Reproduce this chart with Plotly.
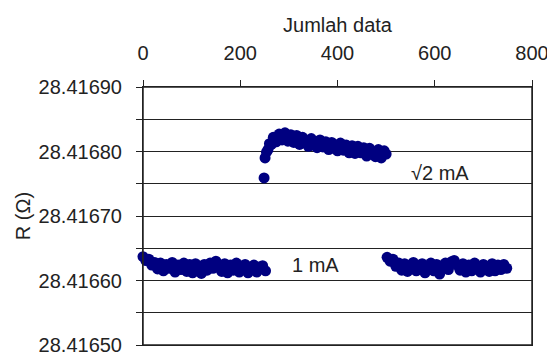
import plotly.graph_objects as go

# ---- data ----
x_1mA_a = [0, 6, 12, 18, 24, 30, 36, 42, 48, 54, 60, 66, 72, 78, 84, 90, 96, 102, 108, 114,
           120, 126, 132, 138, 144, 150, 156, 162, 168, 174, 180, 186, 192, 198, 204, 210,
           216, 222, 228, 234, 240, 246, 252]
r_1mA_a = [28.416637, 28.416631, 28.416633, 28.416624, 28.416628, 28.416618, 28.416627,
           28.416615, 28.416625, 28.416619, 28.416628, 28.416613, 28.416624, 28.416617,
           28.416627, 28.416614, 28.416625, 28.416612, 28.416626, 28.416618, 28.416611,
           28.416625, 28.416616, 28.416627, 28.416619, 28.416630, 28.416622, 28.416614,
           28.416626, 28.416612, 28.416624, 28.416616, 28.416627, 28.416613, 28.416622,
           28.416625, 28.416612, 28.416620, 28.416624, 28.416613, 28.416621, 28.416623,
           28.416615]

x_sqrt2mA = [249, 251, 254, 257, 260, 264, 268, 274, 280, 286, 292, 298, 304, 310, 316, 322,
             328, 334, 340, 346, 352, 358, 364, 370, 376, 382, 388, 394, 400, 406, 412, 418,
             424, 430, 436, 442, 448, 454, 460, 466, 472, 478, 484, 490, 496, 500]
r_sqrt2mA = [28.416759, 28.416790, 28.416799, 28.416803, 28.416812, 28.416811, 28.416822,
             28.416815, 28.416827, 28.416818, 28.416829, 28.416816, 28.416826, 28.416814,
             28.416825, 28.416811, 28.416822, 28.416813, 28.416808, 28.416820, 28.416810,
             28.416806, 28.416818, 28.416807, 28.416815, 28.416803, 28.416814, 28.416805,
             28.416801, 28.416813, 28.416802, 28.416810, 28.416798, 28.416809, 28.416797,
             28.416808, 28.416798, 28.416806, 28.416793, 28.416805, 28.416796, 28.416792,
             28.416803, 28.416790, 28.416801, 28.416796]

x_1mA_b = [502, 508, 514, 520, 526, 532, 538, 544, 550, 556, 562, 568, 574, 580, 586, 592,
           598, 604, 610, 616, 622, 628, 634, 640, 646, 652, 658, 664, 670, 676, 682, 688,
           694, 700, 706, 712, 718, 724, 730, 736, 742, 748]
r_1mA_b = [28.416636, 28.416630, 28.416633, 28.416622, 28.416627, 28.416616, 28.416626,
           28.416614, 28.416624, 28.416628, 28.416615, 28.416623, 28.416626, 28.416612,
           28.416622, 28.416627, 28.416615, 28.416625, 28.416610, 28.416623, 28.416627,
           28.416617, 28.416629, 28.416631, 28.416624, 28.416616, 28.416626, 28.416613,
           28.416624, 28.416615, 28.416627, 28.416620, 28.416613, 28.416625, 28.416622,
           28.416614, 28.416626, 28.416615, 28.416624, 28.416617, 28.416625, 28.416619]

y_tickvals = [28.4165, 28.4166, 28.4167, 28.4168, 28.4169]
y_ticktext = ["28.41650", "28.41660", "28.41670", "28.41680", "28.41690"]
x_tickvals = [0, 200, 400, 600, 800]

label_sqrt2 = "√2 mA"
label_1 = "1 mA"

# ---- figure ----
FONT = "Liberation Sans, Arial, sans-serif"
TXT = "#222222"
MARK = "#000080"
GRID = "#222222"

fig = go.Figure()
for xs, ys in [(x_1mA_a, r_1mA_a), (x_sqrt2mA, r_sqrt2mA), (x_1mA_b, r_1mA_b)]:
    fig.add_trace(go.Scatter(
        x=xs, y=ys, mode="markers",
        marker=dict(color=MARK, size=11, symbol="circle", line=dict(width=0)),
        showlegend=False, hoverinfo="x+y", cliponaxis=False,
    ))

fig.add_annotation(x=611, y=28.416767, text=label_sqrt2, showarrow=False,
                   font=dict(family=FONT, size=20, color=TXT), xref="x", yref="y")
fig.add_annotation(x=354, y=28.416624, text=label_1, showarrow=False,
                   font=dict(family=FONT, size=20, color=TXT), xref="x", yref="y")

# plot-area frame
fig.add_shape(type="rect", xref="x domain", yref="y domain", x0=0, x1=1, y0=0, y1=1,
              line=dict(color=GRID, width=1.5), fillcolor="rgba(0,0,0,0)", layer="above")

fig.update_layout(
    width=547, height=352,
    margin=dict(l=143, r=15, t=87, b=7, autoexpand=False),
    paper_bgcolor="white", plot_bgcolor="white",
    font=dict(family=FONT, size=20, color=TXT),
    showlegend=False,
)
fig.update_xaxes(
    side="top", range=[0, 800], tickvals=x_tickvals,
    ticks="outside", ticklen=6, tickwidth=1, tickcolor=GRID,
    showgrid=False, zeroline=False, automargin=False,
    showline=True, linecolor=GRID, linewidth=1, mirror=True,
    tickfont=dict(family=FONT, size=20, color=TXT),
    ticklabelstandoff=12, ticklabeloverflow="allow",
    title=dict(text="Jumlah data", font=dict(family=FONT, size=20, color=TXT), standoff=4),
)
fig.update_yaxes(
    range=[28.4165, 28.4169], tickvals=y_tickvals, ticktext=y_ticktext,
    ticks="outside", ticklen=6, tickwidth=1, tickcolor=GRID,
    showgrid=True, gridcolor=GRID, gridwidth=1, zeroline=False, automargin=False,
    minor=dict(dtick=0.00005, tick0=28.4165, showgrid=True, gridcolor=GRID, gridwidth=1,
               ticks="outside", ticklen=6, tickcolor=GRID),
    showline=True, linecolor=GRID, linewidth=1, mirror=True,
    tickfont=dict(family=FONT, size=20, color=TXT),
    ticklabelstandoff=10, ticklabeloverflow="allow",
    title=dict(text="R (Ω)", font=dict(family=FONT, size=20, color=TXT), standoff=2),
)

fig.write_html("out.html", config={"displayModeBar": False},
               post_script="document.body.style.margin='0px';document.body.style.overflow='hidden';")
